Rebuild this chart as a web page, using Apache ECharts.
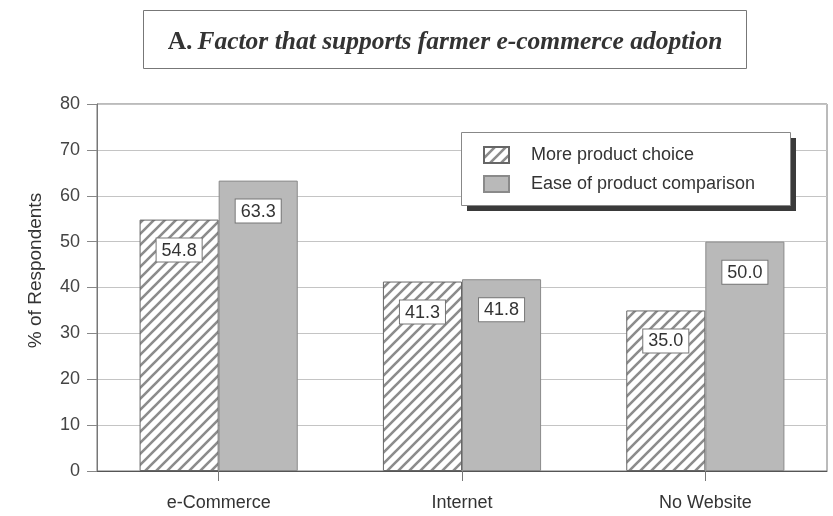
<!DOCTYPE html>
<html>
<head>
<meta charset="utf-8">
<script src="https://cdn.jsdelivr.net/npm/echarts@6/dist/echarts.min.js"></script>
<style>html,body{margin:0;padding:0;background:#fff;}#c{width:833px;height:516px;}</style>
</head>
<body>
<div id="c"></div>
<script>
const categories = ['e-Commerce', 'Internet', 'No Website'];
const moreChoice = [54.8, 41.3, 35.0];
const easeCompare = [63.3, 41.8, 50.0];
const yTicks = [0, 10, 20, 30, 40, 50, 60, 70, 80];
const seriesNames = ['More product choice', 'Ease of product comparison'];
const titleText = 'Factor that supports farmer e-commerce adoption';

function hatch() {
  const P = 11;
  const c = document.createElement('canvas');
  c.width = P; c.height = P;
  const g = c.getContext('2d');
  g.fillStyle = '#ffffff'; g.fillRect(0, 0, P, P);
  g.strokeStyle = '#8c8c8c'; g.lineWidth = 2.6;
  g.beginPath();
  for (let k = -1; k <= 3; k++) {
    g.moveTo(-P, k * P + P); g.lineTo(2 * P, k * P - 2 * P);
  }
  g.stroke();
  return c;
}
const hatchPattern = { image: hatch(), repeat: 'repeat' };

const FONT = 'Liberation Sans, Arial, sans-serif';
const labelStyle = {
  show: true,
  position: 'insideTop',
  distance: 19,
  formatter: p => p.value.toFixed(1),
  backgroundColor: '#ffffff',
  borderColor: '#777',
  borderWidth: 1,
  padding: [3, 5, 2, 5],
  fontSize: 18,
  fontFamily: FONT,
  color: '#333'
};

const chart = echarts.init(document.getElementById('c'));
chart.setOption({
  backgroundColor: '#ffffff',
  animation: false,
  graphic: [
    {
      type: 'rect',
      shape: { x: 143.5, y: 10.5, width: 603, height: 58 },
      style: { fill: '#fff', stroke: '#777', lineWidth: 1 },
      z: -1
    },
    {
      type: 'rect',
      shape: { x: 467, y: 138, width: 329, height: 73 },
      style: { fill: '#3a3a3a' },
      z: 5
    },
    {
      type: 'rect',
      shape: { x: 461.5, y: 132.5, width: 329, height: 73 },
      style: { fill: '#fff', stroke: '#888', lineWidth: 1 },
      z: 6
    }
  ],
  title: {
    text: '{a|A.} {b|' + titleText + '}',
    left: 440,
    top: 24,
    textAlign: 'center',
    textStyle: {
      rich: {
        a: { fontFamily: 'Liberation Serif, Times New Roman, serif', fontWeight: 'bold', fontSize: 25.5, color: '#333' },
        b: { fontFamily: 'Liberation Serif, Times New Roman, serif', fontWeight: 'bold', fontStyle: 'italic', fontSize: 25.5, color: '#333' }
      }
    }
  },
  legend: {
    orient: 'vertical',
    left: 483,
    top: 146,
    z: 10,
    data: seriesNames,
    icon: 'rect',
    itemWidth: 25,
    itemHeight: 16,
    itemGap: 11,
    padding: 0,
    textStyle: { fontSize: 18, fontFamily: FONT, color: '#333', padding: [0, 0, 0, 17] }
  },
  grid: { left: 97, right: 6, top: 104, bottom: 45, show: true, borderColor: '#777', borderWidth: 1, backgroundColor: 'transparent' },
  xAxis: {
    type: 'category',
    data: categories,
    axisLine: { lineStyle: { color: '#555' } },
    axisTick: { show: true, alignWithLabel: true, length: 10, lineStyle: { color: '#777' } },
    axisLabel: { fontSize: 18, fontFamily: FONT, color: '#333', margin: 23 }
  },
  yAxis: {
    type: 'value',
    min: yTicks[0],
    max: yTicks[yTicks.length - 1],
    interval: 10,
    name: '% of Respondents',
    nameLocation: 'middle',
    nameGap: 52,
    nameTextStyle: { fontSize: 19, fontFamily: FONT, color: '#333', padding: [0, 0, 0, 34] },
    axisLine: { show: true, lineStyle: { color: '#777' } },
    axisTick: { show: true, length: 10, lineStyle: { color: '#888' } },
    axisLabel: { fontSize: 18, fontFamily: FONT, color: '#444', margin: 17 },
    splitLine: { show: true, lineStyle: { color: '#c4c4c4' } }
  },
  series: [
    {
      name: seriesNames[0],
      type: 'bar',
      data: moreChoice,
      barGap: '0%',
      barCategoryGap: '35%',
      itemStyle: { color: hatchPattern, borderColor: '#666', borderWidth: 1 },
      label: labelStyle
    },
    {
      name: seriesNames[1],
      type: 'bar',
      data: easeCompare,
      itemStyle: { color: '#b9b9b9', borderColor: '#8a8a8a', borderWidth: 1 },
      label: labelStyle
    }
  ]
});
</script>
</body>
</html>
